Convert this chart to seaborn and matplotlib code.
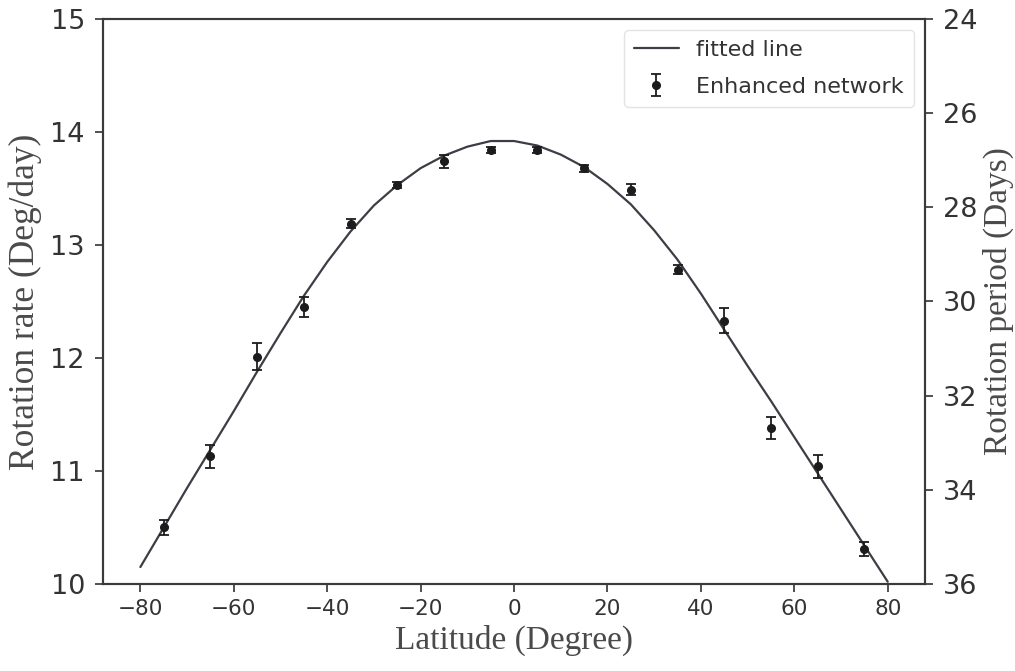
import matplotlib
matplotlib.use('Agg')
import matplotlib.pyplot as plt
import seaborn as sns
import pandas as pd
import numpy as np

sns.set_theme(style='ticks')
plt.rcParams['font.family'] = ['DejaVu Sans']
plt.rcParams['axes.edgecolor'] = '#3a3a3a'
plt.rcParams['axes.linewidth'] = 1.5
plt.rcParams['xtick.color'] = '#3a3a3a'
plt.rcParams['ytick.color'] = '#3a3a3a'
plt.rcParams['xtick.major.size'] = 6
plt.rcParams['ytick.major.size'] = 6

# measured rotation rate per latitude band
latitude = [-75, -65, -55, -45, -35, -25, -15, -5, 5, 15, 25, 35, 45, 55, 65, 75]
rate = [10.50, 11.13, 12.01, 12.45, 13.19, 13.53, 13.74, 13.84,
        13.84, 13.68, 13.49, 12.78, 12.33, 11.38, 11.04, 10.31]
rate_err = [0.07, 0.10, 0.12, 0.09, 0.04, 0.03, 0.06, 0.03,
            0.03, 0.03, 0.05, 0.04, 0.11, 0.10, 0.10, 0.06]

# fitted curve, every 5 degrees
fit_lat = [-80, -75, -70, -65, -60, -55, -50, -45, -40, -35, -30, -25, -20, -15, -10, -5,
           0, 5, 10, 15, 20, 25, 30, 35, 40, 45, 50, 55, 60, 65, 70, 75, 80]
fit_rate = [10.15, 10.50, 10.85, 11.19, 11.53, 11.88, 12.22, 12.55, 12.85, 13.12, 13.35, 13.53,
            13.68, 13.79, 13.87, 13.92, 13.92, 13.88, 13.80, 13.69, 13.54, 13.36, 13.13, 12.87,
            12.57, 12.25, 11.93, 11.62, 11.30, 10.98, 10.66, 10.34, 10.02]

period_ticks = [24, 26, 28, 30, 32, 34, 36]

fit_df = pd.DataFrame({'Latitude': fit_lat, 'Rate': fit_rate})

fig = plt.figure(figsize=(10.15, 6.71), dpi=100)
ax = fig.add_axes([0.1015, 0.1297, 0.8099, 0.842])

sns.lineplot(data=fit_df, x='Latitude', y='Rate', ax=ax, color='#3d3d46',
             linewidth=1.6, label='fitted line')
ax.errorbar(latitude, rate, yerr=rate_err, fmt='o', color='#1c1c1c', ecolor='#1c1c1c',
            markersize=5.5, capsize=3.5, elinewidth=1.3, capthick=1.3,
            label='Enhanced network')

ax.set_xlim(-88, 88)
ax.set_ylim(10, 15)
ax.set_xticks(range(-80, 81, 20))
ax.set_yticks(range(10, 16))
ax.tick_params(axis='y', labelsize=19.5, labelcolor='#333333', pad=7)
ax.tick_params(axis='x', labelsize=15.5, labelcolor='#333333', pad=5)
ax.set_xlabel('Latitude (Degree)', family='Liberation Serif', fontsize=24, color='#4a4a4a', labelpad=4)
ax.set_ylabel('Rotation rate (Deg/day)', family='Liberation Serif', fontsize=25.5, color='#4a4a4a', labelpad=6)

ax2 = ax.twinx()
ax2.set_ylim(36, 24)
ax2.set_yticks(period_ticks)
ax2.tick_params(axis='y', labelsize=19.5, labelcolor='#333333', pad=7)
ax2.set_ylabel('Rotation period (Days)', family='Liberation Serif', fontsize=24, color='#4a4a4a', labelpad=4)

handles, labels = ax.get_legend_handles_labels()
leg = ax.legend(handles, labels, loc='upper right', fontsize=16, frameon=True,
                handlelength=2.0, borderpad=0.45, labelspacing=0.75)
leg.get_frame().set_edgecolor('#dddddd')
for t in leg.get_texts():
    t.set_color('#333333')

fig.savefig('out.png', dpi=100)
